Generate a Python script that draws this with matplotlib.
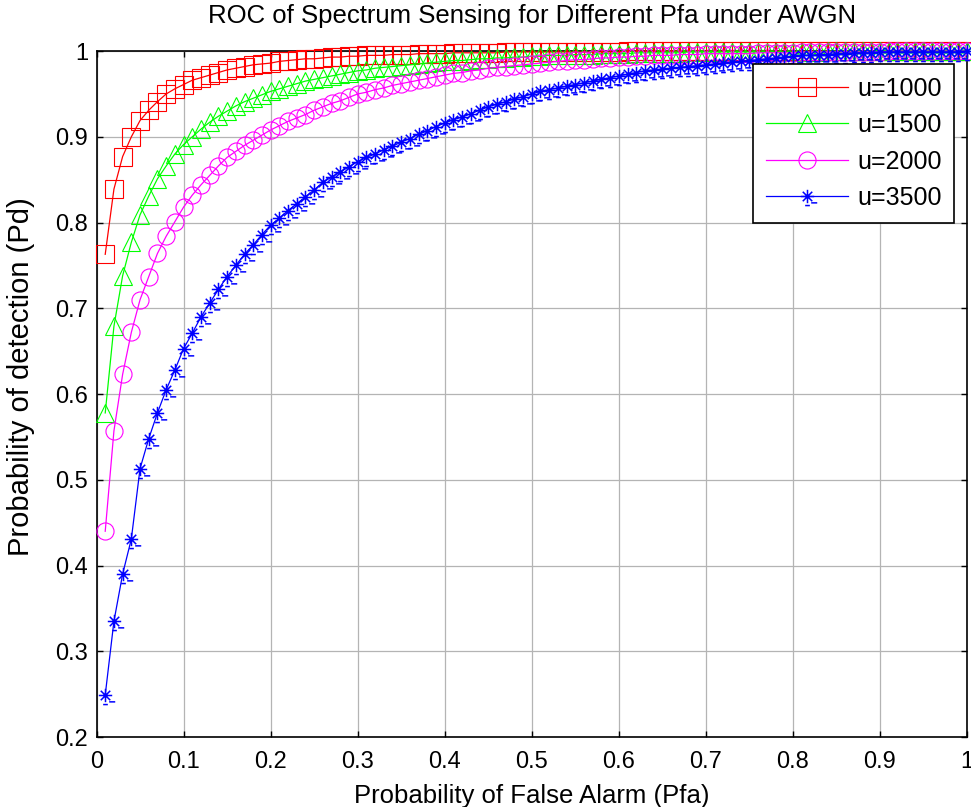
import matplotlib
matplotlib.use("Agg")
import matplotlib.pyplot as plt
import matplotlib.ticker as mticker
import numpy as np
from matplotlib.path import Path

# ── data (Pfa grid 0.01 .. 1.00) ─────────────────────────────────────
pfa = np.round(np.arange(1, 101) / 100, 2)

labels = ["u=1000", "u=1500", "u=2000", "u=3500"]

pd_u1000 = [
    0.763, 0.839, 0.877, 0.900, 0.919, 0.931, 0.941, 0.950, 0.956, 0.961,
    0.966, 0.969, 0.972, 0.975, 0.978, 0.980, 0.982, 0.984, 0.985, 0.986,
    0.988, 0.989, 0.990, 0.991, 0.991, 0.992, 0.993, 0.993, 0.994, 0.994,
    0.995, 0.995, 0.995, 0.996, 0.996, 0.996, 0.997, 0.997, 0.997, 0.997,
    0.998, 0.998, 0.998, 0.998, 0.998, 0.998, 0.999, 0.999, 0.999, 0.999,
    0.999, 0.999, 0.999, 0.999, 0.999, 0.999, 0.999, 0.999, 0.999, 0.999,
    1.000, 1.000, 1.000, 1.000, 1.000, 1.000, 1.000, 1.000, 1.000, 1.000,
    1.000, 1.000, 1.000, 1.000, 1.000, 1.000, 1.000, 1.000, 1.000, 1.000,
    1.000, 1.000, 1.000, 1.000, 1.000, 1.000, 1.000, 1.000, 1.000, 1.000,
    1.000, 1.000, 1.000, 1.000, 1.000, 1.000, 1.000, 1.000, 1.000, 1.000,
]

pd_u1500 = [
    0.578, 0.679, 0.738, 0.777, 0.809, 0.831, 0.851, 0.866, 0.880, 0.891,
    0.900, 0.909, 0.917, 0.924, 0.930, 0.936, 0.941, 0.945, 0.949, 0.953,
    0.956, 0.959, 0.962, 0.965, 0.967, 0.969, 0.971, 0.973, 0.975, 0.977,
    0.978, 0.980, 0.981, 0.982, 0.983, 0.984, 0.985, 0.986, 0.987, 0.988,
    0.989, 0.989, 0.990, 0.991, 0.991, 0.992, 0.992, 0.993, 0.993, 0.994,
    0.994, 0.995, 0.995, 0.995, 0.996, 0.996, 0.996, 0.997, 0.997, 0.997,
    0.997, 0.998, 0.998, 0.998, 0.998, 0.998, 0.998, 0.999, 0.999, 0.999,
    0.999, 0.999, 0.999, 0.999, 0.999, 0.999, 0.999, 0.999, 0.999, 0.999,
    0.999, 0.999, 0.999, 1.000, 1.000, 1.000, 1.000, 1.000, 1.000, 1.000,
    1.000, 1.000, 1.000, 1.000, 1.000, 1.000, 1.000, 1.000, 1.000, 1.000,
]

pd_u2000 = [
    0.440, 0.557, 0.623, 0.672, 0.710, 0.737, 0.764, 0.784, 0.801, 0.818,
    0.832, 0.844, 0.855, 0.866, 0.876, 0.883, 0.890, 0.896, 0.902, 0.908,
    0.913, 0.918, 0.922, 0.926, 0.931, 0.935, 0.939, 0.942, 0.946, 0.950,
    0.952, 0.955, 0.957, 0.960, 0.962, 0.964, 0.966, 0.968, 0.970, 0.972,
    0.974, 0.975, 0.977, 0.978, 0.980, 0.981, 0.982, 0.983, 0.984, 0.985,
    0.986, 0.987, 0.988, 0.989, 0.990, 0.990, 0.991, 0.992, 0.992, 0.993,
    0.993, 0.994, 0.994, 0.995, 0.995, 0.995, 0.996, 0.996, 0.996, 0.997,
    0.997, 0.997, 0.997, 0.997, 0.997, 0.998, 0.998, 0.998, 0.998, 0.998,
    0.999, 0.999, 0.999, 0.999, 0.999, 0.999, 0.999, 0.999, 0.999, 0.999,
    1.000, 1.000, 1.000, 1.000, 1.000, 1.000, 1.000, 1.000, 1.000, 1.000,
]

pd_u3500 = [
    0.249, 0.335, 0.390, 0.431, 0.513, 0.548, 0.578, 0.605, 0.628, 0.653,
    0.671, 0.690, 0.706, 0.722, 0.737, 0.750, 0.763, 0.774, 0.786, 0.797,
    0.805, 0.814, 0.822, 0.830, 0.838, 0.847, 0.853, 0.859, 0.865, 0.871,
    0.876, 0.880, 0.885, 0.889, 0.894, 0.898, 0.903, 0.907, 0.912, 0.916,
    0.920, 0.923, 0.927, 0.931, 0.935, 0.938, 0.941, 0.944, 0.947, 0.950,
    0.953, 0.955, 0.957, 0.959, 0.961, 0.963, 0.965, 0.967, 0.969, 0.971,
    0.973, 0.975, 0.977, 0.978, 0.979, 0.980, 0.981, 0.982, 0.983, 0.984,
    0.985, 0.986, 0.987, 0.988, 0.989, 0.990, 0.991, 0.992, 0.993, 0.994,
    0.995, 0.995, 0.996, 0.996, 0.997, 0.997, 0.998, 0.998, 0.998, 0.999,
    0.999, 0.999, 0.999, 0.999, 0.999, 0.999, 0.999, 0.999, 0.999, 1.000,
]

x_ticks = [0, 0.1, 0.2, 0.3, 0.4, 0.5, 0.6, 0.7, 0.8, 0.9, 1]
y_ticks = [0.2, 0.3, 0.4, 0.5, 0.6, 0.7, 0.8, 0.9, 1]

# MATLAB-ish colours
RED = "#ff0000"
GREEN = "#00ff00"
MAGENTA = "#ff00ff"
BLUE = "#0000ff"
GRID_GRAY = "#b4b4b4"

matplotlib.rcParams.update({
    "font.family": ["Liberation Sans", "DejaVu Sans"],
    "axes.linewidth": 1.2,
})

# ── MATLAB '*' asterisk marker (with the little dash smear seen in the image) ──
r = 1.0
d = 0.707
star_verts = [
    (-r, 0), (r, 0), (0, -r), (0, r),
    (-d, -d), (d, d), (-d, d), (d, -d),
    (-0.35, -1.35), (0.35, -1.35),
    (0.55, -0.95), (1.45, -0.95),
]
star_codes = [Path.MOVETO, Path.LINETO] * 6
STAR = Path(star_verts, star_codes)

fig = plt.figure(figsize=(9.71, 8.07), dpi=100)
fig.patch.set_facecolor("white")
ax = fig.add_axes([0.0994, 0.0867, 0.8965, 0.850])

series = [pd_u1000, pd_u1500, pd_u2000, pd_u3500]
styles = [
    dict(color=RED, marker="s", markersize=12.3),
    dict(color=GREEN, marker="^", markersize=12.5),
    dict(color=MAGENTA, marker="o", markersize=12.3),
    dict(color=BLUE, marker=STAR, markersize=14, markeredgewidth=1.1),
]

for vals, lab, st in zip(series, labels, styles):
    kw = dict(linewidth=0.9, markerfacecolor="none", markeredgewidth=0.8)
    kw.update(st)
    kw["markeredgecolor"] = st["color"]
    ax.plot(pfa, vals, label=lab, clip_on=False, zorder=3, **kw)

ax.set_xlim(0, 1)
ax.set_ylim(0.2, 1)
ax.set_xticks(x_ticks)
ax.set_yticks(y_ticks)
ax.xaxis.set_major_formatter(mticker.FormatStrFormatter("%g"))
ax.yaxis.set_major_formatter(mticker.FormatStrFormatter("%g"))
ax.tick_params(direction="in", length=4, width=1.0, top=True, right=True,
               labelsize=17, pad=6)
ax.tick_params(axis="x", pad=10)
ax.grid(True, color=GRID_GRAY, linewidth=0.9, linestyle="-", zorder=0)
ax.set_axisbelow(True)

ax.set_xlabel("Probability of False Alarm (Pfa)", fontsize=18.5, labelpad=8)
ax.set_ylabel("Probability of detection (Pd)", fontsize=21)
ax.yaxis.set_label_coords(-0.071, 0.525)
ax.set_title("ROC of Spectrum Sensing for Different Pfa under AWGN",
             fontsize=18.5, pad=20)

leg = ax.legend(loc="upper right", bbox_to_anchor=(0.985, 0.981),
                borderaxespad=0, fontsize=18, fancybox=False, framealpha=1,
                edgecolor="black", handlelength=3.3, handletextpad=0.35,
                labelspacing=0.5, borderpad=0.5, numpoints=1)
leg.get_frame().set_linewidth(1.2)
leg.set_zorder(5)

fig.savefig("out.png", dpi=100, facecolor="white")
